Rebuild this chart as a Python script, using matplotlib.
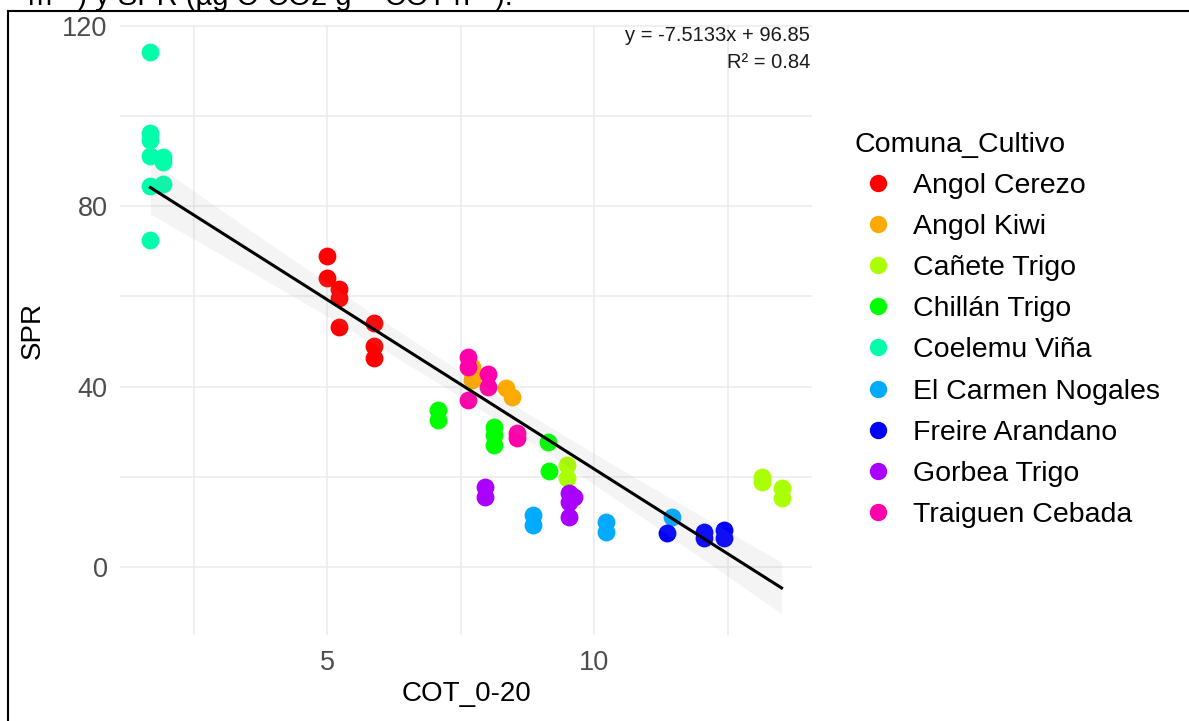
import numpy as np
import matplotlib
matplotlib.use("Agg")
import matplotlib.pyplot as plt
from matplotlib.lines import Line2D

plt.rcParams['font.family'] = ['Liberation Sans', 'DejaVu Sans']

# ---------- data ----------
groups = ['Angol Cerezo', 'Angol Kiwi', 'Cañete Trigo', 'Chillán Trigo', 'Coelemu Viña',
          'El Carmen Nogales', 'Freire Arandano', 'Gorbea Trigo', 'Traiguen Cebada']
colors = ['#FF0000', '#FFAA00', '#AAFF00', '#00FF00', '#00FFAA',
          '#00AAFF', '#0000FF', '#AA00FF', '#FF00AA']

cot = {
    'Angol Cerezo':      [4.99, 4.99, 5.23, 5.23, 5.23, 5.87, 5.87, 5.87],
    'Angol Kiwi':        [7.72, 7.72, 7.72, 8.34, 8.46],
    'Cañete Trigo':      [9.49, 9.49, 13.14, 13.14, 13.51, 13.51],
    'Chillán Trigo':     [7.07, 7.07, 8.12, 8.12, 8.12, 9.13, 9.15],
    'Coelemu Viña':      [1.69, 1.69, 1.69, 1.69, 1.92, 1.92, 1.69, 1.92, 1.69],
    'El Carmen Nogales': [8.85, 8.85, 10.23, 10.23, 11.45],
    'Freire Arandano':   [11.36, 12.05, 12.05, 12.43, 12.43],
    'Gorbea Trigo':      [7.95, 7.95, 9.52, 9.62, 9.52, 9.52],
    'Traiguen Cebada':   [7.63, 7.63, 8.01, 8.01, 7.63, 8.55, 8.55],
}
spr = {
    'Angol Cerezo':      [69.0, 64.1, 61.7, 59.7, 53.2, 54.1, 49.0, 46.4],
    'Angol Kiwi':        [44.4, 41.5, 43.0, 39.7, 37.7],
    'Cañete Trigo':      [22.6, 19.7, 20.0, 18.9, 17.5, 15.3],
    'Chillán Trigo':     [34.8, 32.6, 31.1, 29.3, 27.1, 27.7, 21.3],
    'Coelemu Viña':      [114.2, 96.3, 94.7, 91.2, 90.9, 89.8, 84.5, 85.0, 72.5],
    'El Carmen Nogales': [11.5, 9.3, 10.0, 7.8, 11.1],
    'Freire Arandano':   [7.5, 7.8, 6.4, 8.2, 6.4],
    'Gorbea Trigo':      [17.7, 15.5, 16.4, 15.5, 14.4, 11.1],
    'Traiguen Cebada':   [46.6, 44.4, 42.8, 39.9, 37.0, 29.7, 28.6],
}

SLOPE = -7.5133
INTERCEPT = 96.85
R2 = 0.84
T_CRIT = 2.0

x_all = np.concatenate([cot[g] for g in groups])
y_all = np.concatenate([spr[g] for g in groups])

# confidence band around the reported line
n = len(x_all)
resid = y_all - (INTERCEPT + SLOPE * x_all)
s = np.sqrt(np.sum(resid ** 2) / (n - 2))
xbar = x_all.mean()
sxx = np.sum((x_all - xbar) ** 2)
xfit = np.linspace(x_all.min(), x_all.max(), 100)
yfit = INTERCEPT + SLOPE * xfit
se = s * np.sqrt(1.0 / n + (xfit - xbar) ** 2 / sxx)

# ---------- figure ----------
W, H = 1189, 721
fig = plt.figure(figsize=(W / 100, H / 100), dpi=100)
ax = fig.add_axes([120 / W, 1 - 635 / H, 692 / W, 610 / H])

for g, c in zip(groups, colors):
    ax.scatter(cot[g], spr[g], s=165, color=c, linewidths=0, zorder=3)

ax.fill_between(xfit, yfit - T_CRIT * se, yfit + T_CRIT * se,
                color='#999999', alpha=0.1, linewidth=0, zorder=4)
ax.plot(xfit, yfit, color='black', lw=2.2, zorder=5)

ax.set_xlim(1.12, 14.08)
ax.set_ylim(-15.1, 120.2)
ax.set_xticks([5, 10])
ax.set_xticks([2.5, 7.5, 12.5], minor=True)
ax.set_yticks([0, 40, 80, 120])
ax.set_yticks([20, 60, 100], minor=True)
ax.grid(which='both', color='#EBEBEB', lw=1.1)
ax.set_axisbelow(True)
for sp in ax.spines.values():
    sp.set_visible(False)
ax.tick_params(which='both', length=0, labelsize=19.5, labelcolor='#4D4D4D')
ax.tick_params(axis='x', pad=10.5)
ax.tick_params(axis='y', pad=9)

ax.set_xlabel('COT_0-20', fontsize=20)
ax.xaxis.set_label_coords(0.5, -0.075)
ax.set_ylabel('SPR', fontsize=20)
ax.yaxis.set_label_coords(-0.126, 0.5)
ax.yaxis.label.set_verticalalignment('center')

ax.text(0.997, 0.9836, f'y = {SLOPE}x + {INTERCEPT}', transform=ax.transAxes,
        ha='right', va='center', fontsize=14.5, color='#1A1A1A')
ax.text(0.997, 0.939, f'R² = {R2}', transform=ax.transAxes,
        ha='right', va='center', fontsize=14.5, color='#1A1A1A')

handles = [Line2D([], [], ls='none', marker='o', markersize=12.5, color=c,
                  markeredgewidth=0, label=g) for g, c in zip(groups, colors)]
fig.legend(handles=handles, title='Comuna_Cultivo', loc='upper left',
           bbox_to_anchor=(855 / W, 1 - 132 / H), frameon=False,
           fontsize=20.5, title_fontsize=20.5, alignment='left',
           borderpad=0, borderaxespad=0, handlelength=1.6,
           handletextpad=0.42, labelspacing=0.53)

# cropped caption above the frame and the frame itself
fig.text(513 / W, 1 - 5 / H, 'm⁻²) y SPR (µg C-CO2 g⁻¹ COT h⁻¹).',
         ha='right', va='baseline', fontsize=21, color='black')
fig.add_artist(Line2D([8 / W, 1], [1 - 11 / H, 1 - 11 / H],
                      transform=fig.transFigure, color='black', lw=1.5))
fig.add_artist(Line2D([8 / W, 8 / W], [0, 1 - 11 / H],
                      transform=fig.transFigure, color='black', lw=1.5))

fig.savefig('out.png', dpi=100)
